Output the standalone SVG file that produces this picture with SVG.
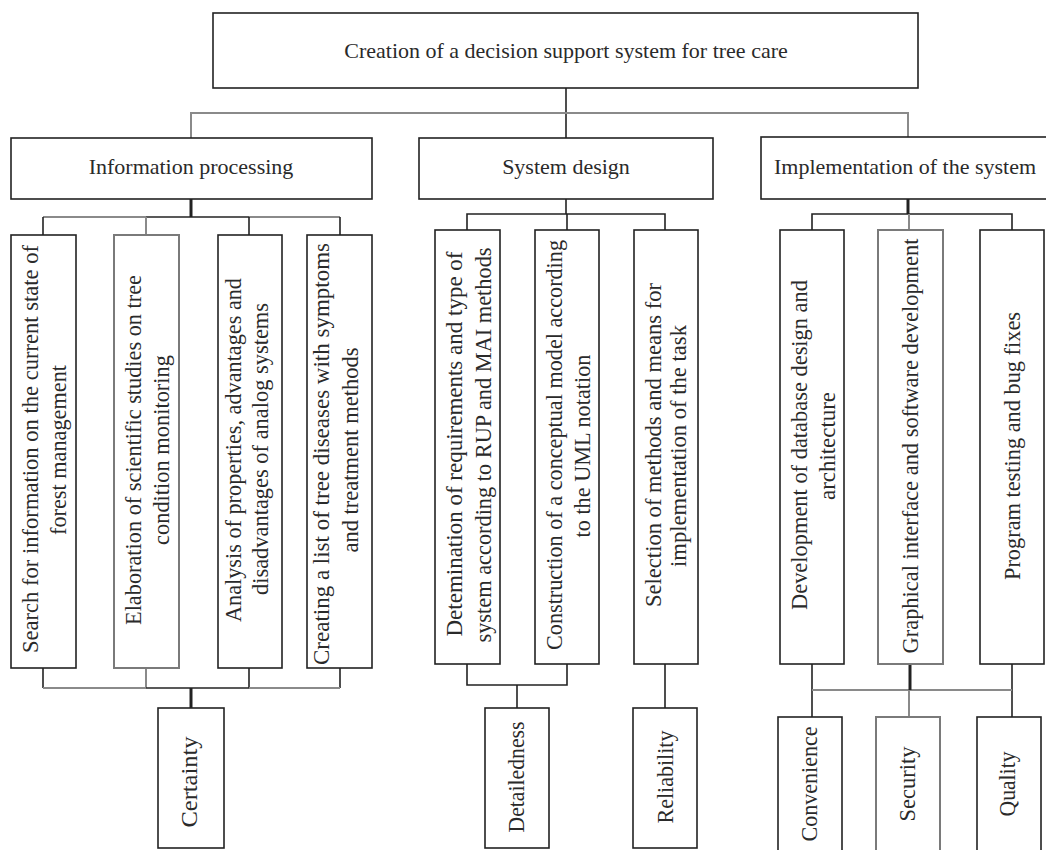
<svg xmlns="http://www.w3.org/2000/svg" width="1046" height="850" viewBox="0 0 1046 850">
<style>
.b{fill:#fff;stroke:#222;stroke-width:1.6}
.g{fill:#fff;stroke:#7a7a7a;stroke-width:2}
.t{font-family:"Liberation Serif","Times New Roman",serif;font-size:22px;fill:#2a2a2a}
.v{font-family:"Liberation Serif","Times New Roman",serif;font-size:23px;fill:#2a2a2a;text-anchor:middle}
.k{stroke:#222;stroke-width:1.6;fill:none}
.kt{stroke:#222;stroke-width:3;fill:none}
.gr{stroke:#8a8a8a;stroke-width:2;fill:none}
</style>
<rect width="1046" height="850" fill="#fff"/>
<g id="connectors">
<line class="k" x1="566" y1="88" x2="566" y2="138"/>
<polyline class="gr" points="191,138 191,113 908,113 908,138"/>
<line class="kt" x1="191" y1="199" x2="191" y2="217"/>
<line class="gr" x1="43" y1="217" x2="146" y2="217"/>
<line class="k" x1="146" y1="217" x2="249" y2="217"/>
<line class="gr" x1="249" y1="217" x2="340" y2="217"/>
<line class="k" x1="43" y1="217" x2="43" y2="235"/>
<line class="gr" x1="146" y1="217" x2="146" y2="235"/>
<line class="k" x1="249" y1="217" x2="249" y2="235"/>
<line class="k" x1="340" y1="217" x2="340" y2="235"/>
<line class="k" x1="43" y1="668" x2="43" y2="688"/>
<line class="gr" x1="146" y1="668" x2="146" y2="688"/>
<line class="k" x1="249" y1="668" x2="249" y2="688"/>
<line class="k" x1="340" y1="668" x2="340" y2="688"/>
<line class="gr" x1="43" y1="688" x2="146" y2="688"/>
<line class="k" x1="146" y1="688" x2="249" y2="688"/>
<line class="gr" x1="249" y1="688" x2="340" y2="688"/>
<line class="kt" x1="191" y1="688" x2="191" y2="708"/>
<line class="k" x1="566" y1="199" x2="566" y2="214"/>
<polyline class="k" points="467,230 467,214 665,214 665,230"/>
<line class="k" x1="567" y1="214" x2="567" y2="230"/>
<polyline class="k" points="467,664 467,685 567,685 567,664"/>
<line class="k" x1="517" y1="685" x2="517" y2="708"/>
<line class="k" x1="665" y1="664" x2="665" y2="708"/>
<line class="kt" x1="908" y1="199" x2="908" y2="214"/>
<polyline class="k" points="812,230 812,214 1012,214 1012,230"/>
<line class="gr" x1="909" y1="214" x2="909" y2="230"/>
<line class="k" x1="812" y1="664" x2="812" y2="717"/>
<line class="k" x1="1012" y1="664" x2="1012" y2="717"/>
<line class="gr" x1="812" y1="690" x2="1012" y2="690"/>
<line class="kt" x1="910" y1="664" x2="910" y2="690"/>
<line class="gr" x1="909" y1="690" x2="909" y2="717"/>
</g>
<g id="root"><rect class="b" x="213" y="13" width="705" height="75"/><text class="t" x="566" y="58" text-anchor="middle">Creation of a decision support system for tree care</text></g>
<g id="info"><rect class="b" x="11" y="138" width="361" height="61"/><text class="t" x="191" y="174" text-anchor="middle">Information processing</text></g>
<g id="design"><rect class="b" x="419" y="138" width="294" height="61"/><text class="t" x="566" y="174" text-anchor="middle">System design</text></g>
<g id="impl"><rect class="b" x="761" y="137" width="320" height="62"/><text class="t" x="774" y="174">Implementation of the system</text></g>

<g id="i1"><rect class="b" x="11" y="235" width="65" height="433"/>
<text class="v" transform="translate(38,449) rotate(-90)" textLength="408" lengthAdjust="spacingAndGlyphs">Search for information on the current state of</text>
<text class="v" transform="translate(66,450) rotate(-90)" textLength="170" lengthAdjust="spacingAndGlyphs">forest management</text></g>
<g id="i2"><rect class="g" x="114" y="235" width="65" height="433"/>
<text class="v" transform="translate(141,450) rotate(-90)" textLength="350" lengthAdjust="spacingAndGlyphs">Elaboration of scientific studies on tree</text>
<text class="v" transform="translate(169,450) rotate(-90)" textLength="190" lengthAdjust="spacingAndGlyphs">condition monitoring</text></g>
<g id="i3"><rect class="b" x="218" y="235" width="64" height="433"/>
<text class="v" transform="translate(241,450) rotate(-90)" textLength="344" lengthAdjust="spacingAndGlyphs">Analysis of properties, advantages and</text>
<text class="v" transform="translate(268,449) rotate(-90)" textLength="292" lengthAdjust="spacingAndGlyphs">disadvantages of analog systems</text></g>
<g id="i4"><rect class="b" x="307" y="235" width="65" height="433"/>
<text class="v" transform="translate(329,454) rotate(-90)" textLength="422" lengthAdjust="spacingAndGlyphs">Creating a list of tree diseases with symptoms</text>
<text class="v" transform="translate(358,450) rotate(-90)" textLength="205" lengthAdjust="spacingAndGlyphs">and treatment methods</text></g>

<g id="d1"><rect class="b" x="435" y="230" width="65" height="434"/>
<text class="v" transform="translate(462,444) rotate(-90)" textLength="385" lengthAdjust="spacingAndGlyphs">Detemination of requirements and type of</text>
<text class="v" transform="translate(491,445) rotate(-90)" textLength="395" lengthAdjust="spacingAndGlyphs">system according to RUP and MAI methods</text></g>
<g id="d2"><rect class="b" x="535" y="230" width="64" height="434"/>
<text class="v" transform="translate(562,445) rotate(-90)" textLength="410" lengthAdjust="spacingAndGlyphs">Construction of a conceptual model according</text>
<text class="v" transform="translate(590,446) rotate(-90)" textLength="183" lengthAdjust="spacingAndGlyphs">to the UML notation</text></g>
<g id="d3"><rect class="b" x="634" y="230" width="64" height="434"/>
<text class="v" transform="translate(661,445) rotate(-90)" textLength="324" lengthAdjust="spacingAndGlyphs">Selection of methods and means for</text>
<text class="v" transform="translate(686,446) rotate(-90)" textLength="242" lengthAdjust="spacingAndGlyphs">implementation of the task</text></g>

<g id="m1"><rect class="b" x="780" y="230" width="64" height="434"/>
<text class="v" transform="translate(807,445) rotate(-90)" textLength="330" lengthAdjust="spacingAndGlyphs">Development of database design and</text>
<text class="v" transform="translate(835,446) rotate(-90)" textLength="108" lengthAdjust="spacingAndGlyphs">architecture</text></g>
<g id="m2"><rect class="g" x="878" y="230" width="65" height="434"/>
<text class="v" transform="translate(918,446) rotate(-90)" textLength="415" lengthAdjust="spacingAndGlyphs">Graphical interface and software development</text></g>
<g id="m3"><rect class="b" x="980" y="230" width="64" height="434"/>
<text class="v" transform="translate(1020,446) rotate(-90)" textLength="268" lengthAdjust="spacingAndGlyphs">Program testing and bug fixes</text></g>

<g id="certainty"><rect class="b" x="158" y="708" width="66" height="140"/>
<text class="v" transform="translate(197,782) rotate(-90)" textLength="91" lengthAdjust="spacingAndGlyphs">Certainty</text></g>
<g id="detailedness"><rect class="b" x="485" y="708" width="64" height="140"/>
<text class="v" transform="translate(524,777) rotate(-90)" textLength="111" lengthAdjust="spacingAndGlyphs">Detailedness</text></g>
<g id="reliability"><rect class="b" x="633" y="708" width="64" height="140"/>
<text class="v" transform="translate(673,777) rotate(-90)" textLength="93" lengthAdjust="spacingAndGlyphs">Reliability</text></g>
<g id="convenience"><rect class="b" x="778" y="717" width="64" height="150"/>
<text class="v" transform="translate(817,784) rotate(-90)" textLength="115" lengthAdjust="spacingAndGlyphs">Convenience</text></g>
<g id="security"><rect class="g" x="876" y="717" width="64" height="150"/>
<text class="v" transform="translate(915,784) rotate(-90)" textLength="75" lengthAdjust="spacingAndGlyphs">Security</text></g>
<g id="quality"><rect class="b" x="977" y="717" width="64" height="150"/>
<text class="v" transform="translate(1015,784) rotate(-90)" textLength="65" lengthAdjust="spacingAndGlyphs">Quality</text></g>
</svg>
